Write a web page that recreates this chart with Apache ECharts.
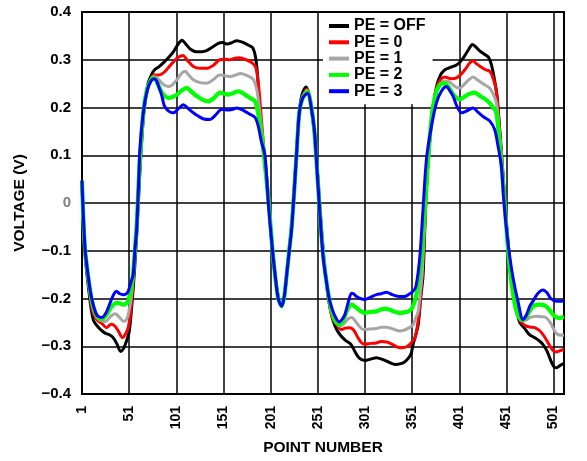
<!DOCTYPE html>
<html>
<head>
<meta charset="utf-8">
<script src="https://cdn.jsdelivr.net/npm/echarts@6/dist/echarts.min.js"></script>
<style>
  html, body { margin: 0; padding: 0; background: #fff; }
  #chart { width: 587px; height: 461px; }
</style>
</head>
<body>
<div id="chart"></div>
<script>
// ------------------------------
// Data: [point number, voltage]
// ------------------------------
var seriesNames = ['PE = OFF', 'PE = 0', 'PE = 1', 'PE = 2', 'PE = 3'];
var seriesColors = ['#000000', '#ff0000', '#a6a6a6', '#00ff00', '#0000ff'];
var xTicks = [1, 51, 101, 151, 201, 251, 301, 351, 401, 451, 501];
var yTicks = [-0.4, -0.3, -0.2, -0.1, 0, 0.1, 0.2, 0.3, 0.4];

var peOff = [
    [1,0.04],[4,-0.1],[8,-0.18],[13,-0.245],[19,-0.262],[25,-0.272],[30,-0.276],[34,-0.282],[38,-0.295],
    [42,-0.311],[45,-0.305],[48,-0.29],[51,-0.27],[54,-0.21],[56,-0.16],[58,-0.1],[60,-0.03],[62,0.05],
    [64,0.12],[67,0.2],[71,0.25],[75,0.27],[78,0.279],[83,0.286],[88,0.295],[93,0.305],[98,0.317],
    [103,0.333],[107,0.341],[111,0.333],[116,0.322],[122,0.317],[128,0.317],[133,0.319],[139,0.326],
    [145,0.334],[150,0.336],[155,0.333],[160,0.336],[165,0.34],[171,0.337],[177,0.331],[182,0.325],
    [185,0.305],[187,0.27],[190,0.18],[193,0.12],[196,0.06],[199,0],[202,-0.08],[205,-0.14],[208,-0.185],
    [211,-0.21],[213,-0.212],[215.5,-0.195],[218,-0.15],[221,-0.09],[223.5,-0.04],[226.5,0.05],[229,0.125],
    [231,0.185],[234,0.225],[238.5,0.243],[242,0.225],[245,0.185],[248,0.135],[251.5,0.04],[255,-0.06],
    [258,-0.13],[261,-0.18],[264,-0.22],[267,-0.245],[271,-0.265],[275,-0.277],[280,-0.287],[286,-0.296],
    [290,-0.31],[295,-0.325],[301,-0.33],[307,-0.327],[313,-0.324],[320,-0.328],[327,-0.334],[333,-0.338],
    [338,-0.337],[343,-0.333],[347,-0.325],[350,-0.315],[352,-0.296],[355,-0.275],[357.5,-0.254],
    [360,-0.2],[362.6,-0.151],[365,-0.02],[367,0.06],[370,0.14],[373,0.2],[377,0.245],[381,0.268],
    [385,0.278],[389,0.282],[393,0.285],[398,0.289],[402,0.296],[406,0.306],[411,0.322],[415,0.332],
    [419,0.326],[423,0.318],[428,0.311],[432,0.305],[435,0.29],[438,0.262],[441,0.224],[444,0.15],
    [447,0.07],[450,-0.02],[453,-0.09],[456,-0.15],[459,-0.195],[462,-0.225],[465,-0.25],[470,-0.262],
    [475,-0.275],[480,-0.281],[486,-0.289],[490,-0.297],[494,-0.31],[498,-0.33],[501,-0.342],[504,-0.345],
    [508,-0.34],[512,-0.336]
];

var pe0 = [
    [1,0.045],[4,-0.095],[8,-0.17],[12,-0.225],[17,-0.245],[22,-0.252],[27,-0.261],[32,-0.254],[36,-0.258],
    [40,-0.27],[44,-0.282],[47,-0.275],[50,-0.261],[53,-0.22],[55,-0.17],[57,-0.11],[59,-0.05],[61,0.03],
    [63,0.1],[66,0.18],[70,0.235],[74,0.26],[78,0.268],[82,0.268],[87,0.272],[92,0.282],[98,0.296],
    [103,0.305],[108,0.309],[113,0.298],[119,0.286],[126,0.282],[133,0.282],[140,0.288],[147,0.3],
    [152,0.301],[158,0.3],[163,0.303],[168,0.304],[175,0.3],[181,0.294],[185,0.285],[188,0.25],[191,0.18],
    [194,0.11],[197,0.05],[199,0],[202.5,-0.085],[205.5,-0.145],[208.5,-0.19],[212.5,-0.214],[215.5,-0.195],
    [218,-0.15],[221,-0.092],[223.5,-0.045],[226.7,0.05],[229,0.122],[231.2,0.187],[234.5,0.222],
    [239.5,0.238],[243,0.215],[246,0.172],[249,0.115],[252,0.02],[255,-0.06],[258,-0.13],[261,-0.18],
    [264,-0.22],[267,-0.243],[271,-0.254],[276,-0.265],[280,-0.262],[285,-0.261],[289,-0.266],[293,-0.28],
    [297,-0.292],[301,-0.296],[307,-0.294],[313,-0.293],[318,-0.29],[324,-0.291],[330,-0.296],[336,-0.302],
    [341,-0.303],[346,-0.3],[350,-0.293],[354,-0.282],[356.5,-0.258],[359,-0.22],[362.6,-0.116],
    [365,-0.02],[367,0.06],[370,0.14],[373,0.2],[377,0.24],[381,0.258],[385,0.264],[389,0.262],
    [393,0.26],[398,0.262],[403,0.27],[408,0.282],[412,0.293],[415.6,0.298],[419,0.292],[424,0.285],
    [429,0.279],[433,0.276],[436,0.266],[440,0.237],[443,0.17],[446,0.09],[449,0.01],[452,-0.07],
    [455,-0.135],[458,-0.185],[461,-0.22],[464,-0.24],[467,-0.25],[472,-0.258],[477,-0.26],[481,-0.261],
    [486,-0.267],[491,-0.279],[496,-0.296],[500,-0.308],[503,-0.312],[507,-0.31],[512,-0.306]
];

var pe1 = [
    [1,0.046],[4,-0.093],[8,-0.165],[12,-0.215],[17,-0.24],[22,-0.247],[26,-0.248],[31,-0.238],[36,-0.232],
    [41,-0.24],[45,-0.248],[48,-0.245],[50,-0.234],[53,-0.2],[55,-0.16],[57,-0.105],[59,-0.045],[61,0.035],
    [63,0.105],[66,0.185],[70,0.237],[74,0.258],[77,0.265],[81,0.261],[85.7,0.251],[89,0.246],[92.7,0.244],
    [97,0.248],[101.6,0.258],[106,0.27],[110.4,0.276],[114,0.268],[119,0.258],[126,0.252],[133,0.251],
    [140,0.258],[147,0.268],[152,0.267],[158,0.265],[164,0.268],[169,0.271],[175,0.268],[181,0.262],
    [184.5,0.251],[187,0.23],[190,0.18],[193,0.125],[196,0.06],[199,0],[202.5,-0.087],[205.5,-0.147],
    [208.5,-0.192],[212.6,-0.215],[215.5,-0.195],[218,-0.15],[221,-0.093],[223.4,-0.048],[226.8,0.05],
    [229,0.121],[231.3,0.188],[234.8,0.221],[239.8,0.236],[243.5,0.21],[246.6,0.165],[249.8,0.08],
    [253,0.0],[256,-0.08],[258.8,-0.14],[262,-0.19],[265,-0.225],[268,-0.243],[271,-0.252],[274.5,-0.258],
    [279,-0.252],[283,-0.243],[287,-0.24],[291,-0.248],[295,-0.258],[299,-0.265],[306,-0.264],[313,-0.263],
    [319,-0.26],[324,-0.26],[331,-0.264],[338,-0.268],[343,-0.266],[348,-0.261],[352,-0.255],[355,-0.24],
    [357.4,-0.227],[360,-0.18],[361.6,-0.151],[363,-0.09],[365,-0.015],[367,0.06],[370,0.14],[373,0.2],
    [377,0.238],[381,0.25],[385,0.255],[389,0.255],[394,0.248],[398,0.242],[401.5,0.241],[406,0.248],
    [411,0.258],[415.6,0.264],[420,0.258],[426,0.25],[433,0.241],[437,0.228],[440.3,0.21],[443,0.16],
    [446,0.085],[449,0.005],[452,-0.075],[455,-0.14],[458,-0.185],[461,-0.22],[464,-0.238],[467,-0.246],
    [471,-0.246],[476,-0.24],[482.7,-0.237],[488,-0.238],[493,-0.24],[498,-0.252],[502,-0.268],
    [506,-0.276],[512,-0.277]
];

var pe2 = [
    [1,0.047],[4,-0.092],[8,-0.16],[12,-0.21],[17,-0.237],[22,-0.243],[27,-0.234],[32,-0.218],[37.6,-0.209],
    [41,-0.21],[45,-0.213],[48,-0.21],[50,-0.205],[53,-0.18],[55,-0.15],[57,-0.1],[59,-0.045],[61,0.04],
    [63,0.11],[66,0.19],[70,0.238],[74,0.257],[77,0.262],[80,0.255],[84,0.238],[88,0.225],[92.7,0.22],
    [97,0.222],[101.6,0.227],[107,0.236],[112,0.241],[117,0.233],[122.7,0.224],[129,0.216],[135,0.213],
    [141,0.22],[147.4,0.231],[152,0.229],[156,0.227],[161,0.23],[166.8,0.234],[173,0.228],[179,0.22],
    [184.5,0.213],[187,0.195],[190,0.16],[193,0.115],[196,0.06],[199,0],[202.6,-0.09],[205.6,-0.15],
    [208.7,-0.196],[212.7,-0.216],[215.5,-0.195],[218,-0.15],[221,-0.094],[223.3,-0.05],[226.8,0.05],
    [229,0.12],[231.4,0.189],[235,0.22],[240,0.233],[243.8,0.205],[247,0.158],[250.5,0.06],[254,-0.045],
    [257,-0.115],[259.8,-0.16],[263,-0.2],[266.5,-0.232],[270,-0.248],[274.5,-0.254],[278,-0.245],
    [282,-0.225],[286.8,-0.213],[291,-0.218],[296,-0.226],[301,-0.23],[307,-0.228],[313,-0.227],
    [318,-0.223],[322,-0.221],[328,-0.224],[334,-0.229],[338,-0.23],[343,-0.229],[347,-0.227],[351,-0.22],
    [355.6,-0.192],[358,-0.155],[360.9,-0.116],[363,-0.05],[365,0],[367,0.065],[370,0.145],[373,0.2],
    [377,0.235],[381,0.248],[385,0.251],[389,0.245],[393,0.232],[397,0.222],[401.5,0.217],[406,0.222],
    [411,0.228],[417.4,0.231],[423,0.224],[428,0.218],[433,0.21],[437,0.2],[440.3,0.189],[443,0.14],
    [446,0.075],[449,0],[452,-0.08],[455,-0.145],[458,-0.19],[461,-0.222],[464,-0.238],[468,-0.245],
    [472,-0.238],[476,-0.225],[480,-0.215],[485,-0.213],[492,-0.215],[497,-0.225],[502,-0.237],
    [507,-0.241],[512,-0.238]
];

var pe3 = [
    [1,0.047],[4.2,-0.095],[8,-0.16],[11.2,-0.199],[16.5,-0.234],[22,-0.24],[27,-0.228],[31,-0.208],
    [35,-0.19],[37.6,-0.185],[41,-0.19],[44.7,-0.192],[48,-0.19],[50,-0.185],[53,-0.165],[55.3,-0.15],
    [57,-0.1],[58.8,-0.06],[61,0.04],[62.4,0.113],[66,0.19],[70,0.235],[74,0.255],[77.5,0.26],[80,0.256],
    [83,0.24],[85.7,0.224],[88,0.205],[91,0.196],[95,0.19],[98,0.189],[103,0.197],[108.6,0.206],
    [113,0.199],[119,0.189],[125,0.181],[130,0.176],[136.8,0.175],[142,0.183],[149,0.196],[154.5,0.195],
    [160,0.196],[165,0.199],[172,0.194],[179,0.186],[184.5,0.179],[188,0.16],[191,0.13],[195,0.099],
    [198.5,0],[203,-0.1],[206,-0.155],[209,-0.2],[212.7,-0.216],[215.5,-0.195],[218,-0.15],[221,-0.095],
    [223.3,-0.053],[226.8,0.05],[229,0.12],[231.4,0.189],[235,0.22],[240.3,0.23],[244,0.2],[247.3,0.154],
    [250.8,0.05],[254.3,-0.054],[257,-0.12],[259.6,-0.157],[263,-0.2],[266.7,-0.225],[270,-0.24],
    [273.7,-0.249],[277,-0.243],[279.7,-0.234],[283,-0.21],[286.8,-0.189],[289,-0.19],[292,-0.196],
    [296,-0.2],[300.9,-0.202],[307,-0.197],[313.3,-0.192],[318,-0.19],[323.9,-0.187],[330,-0.192],
    [337.9,-0.196],[343,-0.196],[347,-0.192],[352,-0.185],[355,-0.175],[359,-0.116],[362.6,-0.012],
    [366.2,0.092],[371.5,0.161],[376.8,0.21],[382,0.234],[387.4,0.244],[391,0.235],[394.4,0.224],
    [398,0.205],[403.3,0.189],[408,0.192],[415.6,0.199],[421,0.19],[427,0.18],[433.2,0.172],[438.5,0.154],
    [442,0.12],[445.6,0.078],[448,0.01],[451,-0.054],[454,-0.105],[458,-0.157],[463.2,-0.206],
    [468.5,-0.244],[472,-0.235],[476,-0.215],[479,-0.206],[484,-0.19],[489.7,-0.182],[494,-0.188],
    [498,-0.2],[503.6,-0.206],[508,-0.206],[512,-0.205]
];

var seriesData = [peOff, pe0, pe1, pe2, pe3];
var lineWidths = [3, 3, 3, 4.2, 3];

var myChart = echarts.init(document.getElementById('chart'));

var font = '"Liberation Sans", Arial, sans-serif';

var option = {
    animation: false,
    backgroundColor: '#fff',
    // Setup grid
    grid: {
        left: 82,
        right: 23,
        top: 12,
        bottom: 64,
        show: true,
        borderColor: '#000',
        borderWidth: 2
    },
    legend: {
        orient: 'vertical',
        left: 323,
        top: 13,
        padding: [5, 7, 5, 6],
        backgroundColor: '#fff',
        itemGap: 0.3,
        itemWidth: 20,
        itemHeight: 4,
        icon: 'rect',
        textStyle: {
            fontFamily: font,
            fontWeight: 'bold',
            fontSize: 16,
            lineHeight: 15,
            color: '#000'
        },
        data: seriesNames
    },
    xAxis: {
        type: 'value',
        min: 1,
        max: 512,
        interval: 50,
        name: 'POINT NUMBER',
        nameLocation: 'middle',
        nameGap: 46,
        nameTextStyle: {
            fontFamily: font,
            fontWeight: 'bold',
            fontSize: 15.5,
            color: '#000'
        },
        axisLine: { show: true, onZero: false, lineStyle: { color: '#000', width: 2 } },
        axisTick: { show: false },
        axisLabel: {
            rotate: 90,
            margin: 12,
            showMaxLabel: false,
            fontFamily: font,
            fontWeight: 'bold',
            fontSize: 14,
            color: '#000',
            formatter: function (v) {
                return xTicks.indexOf(v) >= 0 ? String(v) : '';
            }
        },
        splitLine: { show: true, lineStyle: { color: '#000', width: 1.5 } }
    },
    yAxis: {
        type: 'value',
        min: -0.4,
        max: 0.4,
        interval: 0.1,
        name: 'VOLTAGE (V)',
        nameLocation: 'middle',
        nameGap: 54,
        nameRotate: 90,
        nameTextStyle: {
            fontFamily: font,
            fontWeight: 'bold',
            fontSize: 15.5,
            color: '#000'
        },
        axisLine: { show: true, lineStyle: { color: '#000', width: 2 } },
        axisTick: { show: false },
        axisLabel: {
            margin: 11,
            fontFamily: font,
            fontWeight: 'bold',
            fontSize: 15,
            color: function (v) {
                return Math.abs(v) < 1e-9 ? '#808080' : '#000';
            },
            formatter: function (v) {
                var r = Math.round(v * 10) / 10;
                if (r === 0) return '0';
                return (r < 0 ? '\u2212' : '') + Math.abs(r).toFixed(1);
            }
        },
        splitLine: { show: true, lineStyle: { color: '#000', width: 1.5 } }
    },
    series: seriesNames.map(function (name, i) {
        return {
            name: name,
            type: 'line',
            data: seriesData[i],
            showSymbol: false,
            smooth: 0.3,
            color: seriesColors[i],
            lineStyle: { width: lineWidths[i], color: seriesColors[i] },
            z: 2 + i
        };
    })
};

myChart.setOption(option);
</script>
</body>
</html>
